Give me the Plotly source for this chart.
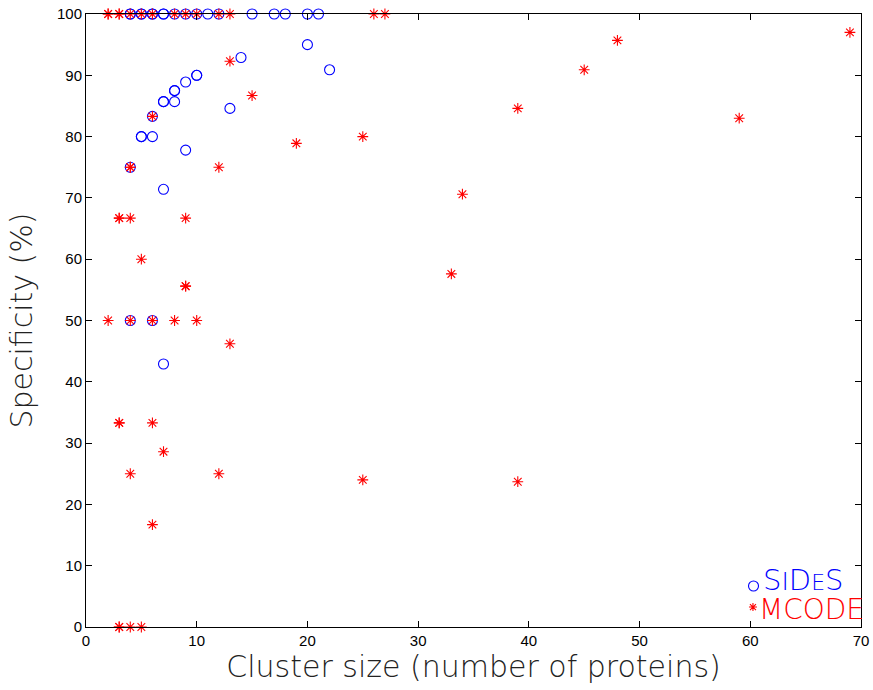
import plotly.graph_objects as go

# SIDES clusters: size vs specificity (%)
sides_size = [4, 4, 5, 5, 6, 6, 7, 7, 8, 9, 10, 11, 12, 15, 17, 18, 20, 21,
              20, 22, 14, 13, 10, 10, 9, 8, 8, 7, 7, 8, 6, 5, 5, 6, 9, 4, 7, 4, 6, 7]
sides_spec = [100, 100, 100, 100, 100, 100, 100, 100, 100, 100, 100, 100, 100, 100, 100, 100, 100, 100,
              95.0, 90.9, 92.9, 84.6, 90.0, 90.0, 88.9, 87.5, 87.5, 85.7, 85.7, 85.7, 83.3, 80.0, 80.0, 80.0,
              77.8, 75.0, 71.4, 50.0, 50.0, 42.9]

# MCODE clusters: size vs specificity (%)
mcode_size = [2, 2, 3, 3, 4, 5, 6, 8, 9, 10, 12, 13, 26, 27,
              13, 15, 19, 12, 25, 6, 4, 4, 3, 3, 4, 9, 5, 9, 9,
              2, 4, 6, 8, 10, 13, 3, 3, 6, 7, 4, 12, 6, 3, 3, 4, 5,
              33, 34, 39, 39, 25, 45, 48, 59, 69]
mcode_spec = [100, 100, 100, 100, 100, 100, 100, 100, 100, 100, 100, 100, 100, 100,
              92.3, 86.7, 78.9, 75.0, 80.0, 83.3, 75.0, 75.0, 66.7, 66.7, 66.7, 66.7, 60.0, 55.6, 55.6,
              50.0, 50.0, 50.0, 50.0, 50.0, 46.2, 33.3, 33.3, 33.3, 28.6, 25.0, 25.0, 16.7, 0, 0, 0, 0,
              57.6, 70.6, 84.6, 23.7, 24.0, 90.9, 95.7, 83.0, 97.0]

x_ticks = [0, 10, 20, 30, 40, 50, 60, 70]
y_ticks = [0, 10, 20, 30, 40, 50, 60, 70, 80, 90, 100]

BLUE = "#0000FF"
RED = "#FF0000"
TITLE_FONT = dict(family="DejaVu Sans", size=30, color="#222222", weight=200)

fig = go.Figure()
fig.add_trace(go.Scatter(
    x=sides_size, y=sides_spec, mode="markers", name="SIDES",
    marker=dict(symbol="circle-open", size=10, color=BLUE, line=dict(width=1.1, color=BLUE)),
    cliponaxis=False, showlegend=False,
))
fig.add_trace(go.Scatter(
    x=mcode_size, y=mcode_spec, mode="markers", name="MCODE",
    marker=dict(symbol="asterisk-open", size=9, color=RED, line=dict(width=1.1, color=RED)),
    cliponaxis=False, showlegend=False,
))

axis_common = dict(
    showline=True, linecolor="black", linewidth=1, mirror="ticks",
    ticks="inside", ticklen=6, tickwidth=1, tickcolor="black",
    showgrid=False, zeroline=False, automargin=False, ticklabeloverflow="allow",
    tickfont=dict(family="Liberation Sans, Arial", size=15, color="black"),
)

fig.update_xaxes(range=[0, 70], tickvals=x_ticks, ticktext=[str(v) for v in x_ticks],
                 title=dict(text="Cluster size (number of proteins)", font=TITLE_FONT, standoff=6),
                 **axis_common)
fig.update_yaxes(range=[0, 100], tickvals=y_ticks, ticktext=[str(v) for v in y_ticks],
                 title=dict(text="Specificity (%)", font=TITLE_FONT, standoff=15),
                 **axis_common)

# Legend drawn by hand (placed in paper coordinates)
fig.add_shape(type="circle", xref="paper", yref="paper", xsizemode="pixel", ysizemode="pixel",
              xanchor=0.8613, yanchor=0.0669, x0=-5, x1=5, y0=-5, y1=5,
              line=dict(color=BLUE, width=1.1))
fig.add_shape(type="path", xref="paper", yref="paper", xsizemode="pixel", ysizemode="pixel",
              xanchor=0.8606, yanchor=0.0326,
              path="M-4,0 L4,0 M0,-4 L0,4 M-3,-3 L3,3 M-3,3 L3,-3",
              line=dict(color=RED, width=1.1))
fig.add_annotation(xref="paper", yref="paper", x=0.8710, y=0.0770, xanchor="left", yanchor="middle",
                   showarrow=False,
                   text="S<span style='font-size:25px'>I</span>D<span style='font-size:22px'>E</span>S",
                   font=dict(family="DejaVu Sans", size=29, color=BLUE, weight=200))
fig.add_annotation(xref="paper", yref="paper", x=0.8660, y=0.0280, xanchor="left", yanchor="middle",
                   showarrow=False, text="MCODE",
                   font=dict(family="DejaVu Sans", size=28, color=RED, weight=200))

fig.update_layout(
    width=873, height=690,
    margin=dict(l=86, r=12, t=14, b=63),
    paper_bgcolor="white", plot_bgcolor="white",
)

# remove the default page margin so the figure fills the window exactly
fig.write_html("out.html", config={"displayModeBar": False},
               post_script="document.body.style.margin='0';")
